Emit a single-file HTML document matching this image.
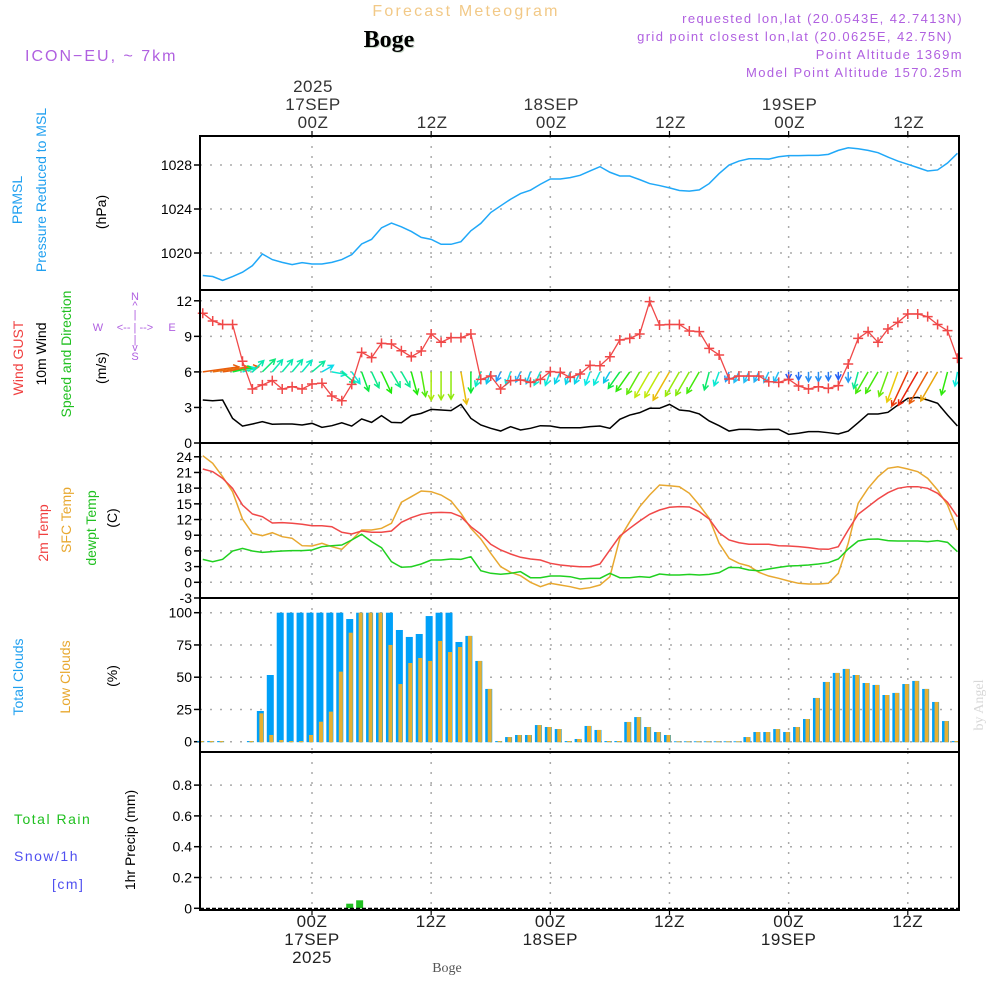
<!DOCTYPE html>
<html><head><meta charset="utf-8"><style>
html,body{margin:0;padding:0;background:#fff;}
svg{display:block;font-family:"Liberation Sans",sans-serif;}
</style></head><body>
<svg id="chart" width="1000" height="1000" viewBox="0 0 1000 1000" xmlns="http://www.w3.org/2000/svg">
<rect x="0" y="0" width="1000" height="1000" fill="#fff"/>
<text x="466" y="16" font-size="16" fill="#f2c987" text-anchor="middle" letter-spacing="2.2">Forecast Meteogram</text>
<text x="390" y="48" font-size="24" font-weight="bold" fill="#c9d9c9" text-anchor="middle" font-family="Liberation Serif,serif">Boge</text>
<text x="389" y="47" font-size="24" font-weight="bold" fill="#000" text-anchor="middle" font-family="Liberation Serif,serif">Boge</text>
<text x="25" y="61" font-size="16" fill="#b060e0" letter-spacing="2">ICON−EU, ~ 7km</text>
<g font-size="13" fill="#b060e0" text-anchor="end" letter-spacing="1.4">
<text x="963" y="23">requested lon,lat (20.0543E, 42.7413N)</text>
<text x="953" y="41">grid point closest lon,lat (20.0625E, 42.75N)</text>
<text x="963" y="59">Point Altitude 1369m</text>
<text x="963" y="77">Model Point Altitude 1570.25m</text>
</g>
<text transform="translate(983,705) rotate(-90)" font-size="14" fill="#d8d8d8" text-anchor="middle" font-family="Liberation Serif,serif">by Angel</text>
<text x="447" y="972" font-size="14" fill="#555" text-anchor="middle" font-family="Liberation Serif,serif">Boge</text>

<g font-size="14" text-anchor="middle">
<text transform="translate(22,200) rotate(-90)" fill="#20a0f0">PRMSL</text>
<text transform="translate(46,190) rotate(-90)" fill="#20a0f0">Pressure Reduced to MSL</text>
<text transform="translate(106,212) rotate(-90)" fill="#000">(hPa)</text>
<text transform="translate(23,358) rotate(-90)" fill="#f04040">Wind GUST</text>
<text transform="translate(46,354) rotate(-90)" fill="#000">10m Wind</text>
<text transform="translate(71,354) rotate(-90)" fill="#20c020">Speed and Direction</text>
<text transform="translate(106,368) rotate(-90)" fill="#000">(m/s)</text>
<text transform="translate(48,533) rotate(-90)" fill="#f04040">2m Temp</text>
<text transform="translate(71,520) rotate(-90)" fill="#e8a830">SFC Temp</text>
<text transform="translate(96,528) rotate(-90)" fill="#20c020">dewpt Temp</text>
<text transform="translate(117,518) rotate(-90)" fill="#000">(C)</text>
<text transform="translate(23,677) rotate(-90)" fill="#20a0f0">Total Clouds</text>
<text transform="translate(70,677) rotate(-90)" fill="#e8a830">Low Clouds</text>
<text transform="translate(117,676) rotate(-90)" fill="#000">(%)</text>
<text transform="translate(135,840) rotate(-90)" fill="#000">1hr Precip (mm)</text>
</g>
<g font-size="14" letter-spacing="1.5">
<text x="14" y="824" fill="#20c020">Total  Rain</text>
<text x="14" y="861" fill="#5050f0">Snow/1h</text>
<text x="52" y="889" fill="#5050f0">[cm]</text>
</g>
<g fill="#b060e0" font-size="11" text-anchor="middle">
<text x="135" y="300">N</text><text x="135" y="309">^</text><text x="135" y="318">|</text>
<text x="98" y="331">W</text><text x="135" y="331">&lt;-- | --&gt;</text><text x="172" y="331">E</text>
<text x="135" y="343">|</text><text x="135" y="351">v</text><text x="135" y="360">S</text>
</g>
<g id="plot"></g>
</svg>
<script>
const startHour = -11;
const pressure = [1017.95,1017.86,1017.5,1017.86,1018.25,1018.85,1019.91,1019.4,1019.15,1018.94,1019.12,1019.0,
1019.0,1019.15,1019.4,1019.85,1020.82,1021.24,1022.29,1022.72,1022.38,1021.96,1021.42,1021.24,
1020.79,1020.79,1021.03,1022.02,1022.69,1023.68,1024.29,1024.89,1025.4,1025.71,1026.25,1026.73,
1026.73,1026.85,1027.06,1027.46,1027.85,1027.34,1027.0,1027.0,1026.67,1026.31,1026.13,1025.92,
1025.68,1025.62,1025.74,1026.31,1027.22,1028.0,1028.36,1028.57,1028.57,1028.54,1028.75,1028.85,
1028.85,1028.88,1028.88,1028.97,1029.33,1029.57,1029.48,1029.33,1029.12,1028.72,1028.36,1028.06,
1027.76,1027.46,1027.55,1028.18,1029.06];
const gust = [10.95,10.3,10.0,10.0,6.9,4.56,4.9,5.26,4.56,4.75,4.56,4.98,
5.04,3.97,3.57,4.95,7.65,7.2,8.41,8.35,7.79,7.28,7.76,9.2,
8.5,8.89,8.89,9.2,5.37,5.65,4.56,5.26,5.32,5.12,5.37,6.02,
5.96,5.54,5.82,6.55,6.52,7.28,8.69,8.83,9.2,11.93,9.96,10.0,
10.0,9.45,9.4,7.99,7.43,5.4,5.65,5.65,5.65,5.17,5.12,5.37,
4.81,4.56,4.75,4.61,4.84,6.67,8.83,9.4,8.5,9.62,10.18,10.89,
10.89,10.66,10.0,9.48,7.15];
const windSpeed = [3.63,3.57,3.63,2.08,1.43,1.6,1.8,1.58,1.6,1.6,1.52,1.66,
1.32,1.46,1.71,1.43,2.03,1.74,2.31,1.74,1.71,2.31,2.5,2.84,
2.78,2.73,3.26,2.08,1.52,1.24,1.01,1.38,1.1,1.24,1.46,1.43,
1.29,1.29,1.29,1.38,1.43,1.24,2.0,2.36,2.56,2.93,2.93,3.26,
2.78,2.7,2.45,1.86,1.46,1.01,1.15,1.15,1.1,1.15,1.15,0.73,
0.82,0.96,0.96,0.87,0.76,1.01,1.71,2.45,2.45,2.59,3.2,3.77,
3.85,3.63,3.35,2.36,1.43];
const windToBearing = [82,82,82,78,75,45,45,40,40,40,40,50,
60,100,130,145,160,155,155,150,150,165,170,180,
180,180,170,180,200,200,205,200,205,200,205,200,
205,200,205,200,205,210,215,215,210,210,210,210,
210,210,210,195,200,200,205,205,205,205,205,180,
180,180,180,180,180,180,195,210,210,200,200,205,
210,210,210,195,190];
const temp2m = [21.66,21.15,19.88,17.97,14.78,13.06,12.55,11.34,11.4,11.28,11.09,10.82,
10.82,10.63,9.56,9.24,9.81,9.56,9.56,9.81,11.47,12.35,13.0,13.31,
13.38,13.31,12.55,10.63,9.18,7.27,6.18,5.41,4.78,4.46,4.26,3.63,
3.31,3.12,2.98,2.98,3.5,6.18,8.85,10.32,11.72,13.0,13.82,14.34,
14.46,14.4,13.5,12.1,9.48,8.09,7.57,7.27,7.27,7.27,7.0,6.94,
6.81,6.62,6.37,6.31,6.81,10.0,13.0,14.46,15.93,17.13,17.97,18.28,
18.28,17.97,17.02,15.3,12.55];
const tempSfc = [24.21,22.75,20.19,17.32,12.1,9.37,8.91,9.48,8.72,8.41,7.0,6.94,
7.46,6.81,6.31,8.09,10.0,10.0,10.32,11.28,15.3,16.37,17.46,17.32,
16.69,15.55,13.19,10.32,8.28,5.54,2.98,1.91,1.26,0.0,-0.84,-0.19,
-0.52,-0.84,-1.28,-1.03,-0.52,1.07,8.41,11.59,14.46,16.69,18.6,18.47,
18.28,17.02,14.78,12.24,7.46,4.59,3.63,3.12,1.91,1.2,0.76,0.25,
-0.19,-0.33,-0.33,-0.19,1.72,7.46,15.1,17.97,20.19,21.8,22.1,21.66,
21.15,19.88,17.65,14.78,10.0];
const dewpoint = [4.39,3.94,4.39,5.98,6.49,5.98,5.73,5.86,5.98,6.05,6.05,6.18,
6.81,7.0,7.13,8.09,9.18,7.77,6.62,3.94,2.87,2.98,3.5,4.26,
4.26,4.46,4.39,4.9,2.22,1.72,1.53,1.72,2.03,0.88,0.88,1.2,
1.2,1.07,0.63,0.76,0.76,1.72,0.88,0.88,1.08,0.95,1.59,1.4,
1.4,1.52,1.4,1.52,1.84,2.86,2.8,2.35,2.22,2.54,2.86,3.12,
3.18,3.31,3.5,3.75,4.46,6.37,7.9,8.22,8.28,7.96,7.9,7.9,
7.9,7.77,7.96,7.64,5.86];
const totalClouds = [0.5,0.5,0.5,0,0,0.5,23.8,51.7,100,100,100,100,
100,100,100,95.1,100,100,100,100,86.6,81.2,83.5,97.4,
100,100,77.3,82,62.6,40.9,0.5,3.6,5.2,5.2,12.9,11.4,
9.8,0.5,2.1,12.2,9.1,0.5,0.5,15.3,19.1,11.4,7.5,5.2,
0.3,0.3,0.3,0.3,0.3,0.3,0.3,3.6,7.5,7.5,9.8,7.5,
11.4,17.6,33.9,46.3,53.3,56.4,51.7,45.5,44,36.2,37.8,44.7,
47.1,40.9,30.8,16,0.5];
const lowClouds = [0.5,0.5,0.5,0,0,0.5,22,5.2,1.3,0.5,0.5,5.2,
15.5,23.3,54.3,84.5,100,100,100,75,44.7,61,64.9,62.6,
78.1,69.5,73.4,82,62.6,40.9,0.5,3.6,5.2,5.2,12.9,11.4,
9.8,0.5,2.1,12.2,9.1,0.5,0.5,15.3,19.1,11.4,7.5,5.2,
0.3,0.3,0.3,0.3,0.3,0.3,0.3,3.6,7.5,7.5,9.8,7.5,
11.4,17.6,33.9,46.3,53.3,56.4,51.7,45.5,44,36.2,37.8,44.7,
47.1,40.9,30.8,16,0.5];
const precipHours = [4,5];
const precipValues = [0.03,0.052];
const pressureTicks = [1020,1024,1028];
const windTicks = [0,3,6,9,12];
const tempTicks = [-3,0,3,6,9,12,15,18,21,24];
const cloudTicks = [0,25,50,75,100];
const precipTicks = [0,0.2,0.4,0.6,0.8];
const gridHours = [0,12,24,36,48,60];
const topTimeLabels = [["2025","17SEP","00Z"],["","","12Z"],["","18SEP","00Z"],["","","12Z"],["","19SEP","00Z"],["","","12Z"]];
const bottomTimeLabels = [["00Z","17SEP","2025"],["12Z","",""],["00Z","18SEP",""],["12Z","",""],["00Z","19SEP",""],["12Z","",""]];

const L = 200, R = 959;
const X = t => 312 + 9.93 * t;
const yP = p => 165 + (1028 - p) * 11;
const yW = w => 443 - w * 11.85;
const yT = v => 582.3 - v * 5.23;
const yC = c => 741.7 - c * 1.29;
const yR = r => 908.3 - r * 154;
const panels = [[136,290,pressureTicks,yP,'pressure'],[290,443,windTicks,yW,'wind'],[443,598,tempTicks,yT,'temp'],[598,752,cloudTicks,yC,'cloud'],[752,910,precipTicks,yR,'precip']];

const NS = 'http://www.w3.org/2000/svg';
const plot = document.getElementById('plot');
function mk(tag, attrs, parent) {
  const e = document.createElementNS(NS, tag);
  for (const k in attrs) e.setAttribute(k, attrs[k]);
  (parent || plot).appendChild(e);
  return e;
}
const hoursOf = i => startHour + i;

panels.forEach(([top, bot, ticks, ys, nm]) => {
  const g = mk('g', {});
  
  
  ticks.forEach(v => {
    const y = ys(v);
    if (y > top + 2 && y < bot - 2) mk('line', {x1:L, x2:R, y1:y, y2:y, stroke:'#aaa', 'stroke-width':1.5, 'stroke-dasharray':'2 8'}, g);
    mk('line', {x1:L-6, x2:L, y1:y, y2:y, stroke:'#000', 'stroke-width':1.5}, g);
    const tx = mk('text', {x:L-8, y:y+5, 'font-size':14, 'text-anchor':'end', fill:'#000'}, g);
    tx.textContent = String(v);
    
    
  });
  gridHours.forEach(h => {
    mk('line', {x1:X(h), x2:X(h), y1:top, y2:bot, stroke:'#aaa', 'stroke-width':1.5, 'stroke-dasharray':'2 8'}, g);
  });
});

const pLine = mk('polyline', {points:pressure.map((p, i) => X(hoursOf(i)) + ',' + yP(p)).join(' '), fill:'none', stroke:'#20a8f8', 'stroke-width':1.5});



const wsLine = mk('polyline', {points:windSpeed.map((w, i) => X(hoursOf(i)) + ',' + yW(w)).join(' '), fill:'none', stroke:'#000', 'stroke-width':1.5});



function speedColor(s) {
  let h = 220 - (s - 0.8) * 70;
  h = Math.max(0, Math.min(225, h));
  return 'hsl(' + h + ',90%,' + (h > 190 ? 55 : 48) + '%)';
}
const arrowG = mk('g', {});


windSpeed.forEach((s, i) => {
  const x0 = X(hoursOf(i)), y0 = yW(6);
  const a = windToBearing[i] * Math.PI / 180;
  const len = s * 10;
  const dx = Math.sin(a), dy = -Math.cos(a);
  const x1 = x0 + dx * len, y1 = y0 + dy * len;
  const c = speedColor(s);
  const hl = 6, ang = 0.5;
  const ba = Math.atan2(-dy, -dx);
  const d = 'M' + x0 + ' ' + y0 + 'L' + x1 + ' ' + y1 +
    'M' + (x1 + hl * Math.cos(ba + ang)) + ' ' + (y1 + hl * Math.sin(ba + ang)) + 'L' + x1 + ' ' + y1 +
    'L' + (x1 + hl * Math.cos(ba - ang)) + ' ' + (y1 + hl * Math.sin(ba - ang));
  const p = mk('path', {d:d, fill:'none', stroke:c, 'stroke-width':1.5}, arrowG);
  
  
});

const gLine = mk('polyline', {points:gust.map((w, i) => X(hoursOf(i)) + ',' + yW(w)).join(' '), fill:'none', stroke:'#f04848', 'stroke-width':1.3});


gust.forEach((w, i) => {
  const x = X(hoursOf(i)), y = yW(w);
  const m = mk('path', {d:'M' + (x-5) + ' ' + y + 'H' + (x+5) + 'M' + x + ' ' + (y-5) + 'V' + (y+5), stroke:'#f04848', 'stroke-width':1.5});
  
  
});

[[tempSfc,'#e8a830','sfc-temp-line'],[temp2m,'#f04848','t2m-line'],[dewpoint,'#20d020','dewpoint-line']].forEach(([arr, col, nm]) => {
  const l = mk('polyline', {points:arr.map((v, i) => X(hoursOf(i)) + ',' + yT(v)).join(' '), fill:'none', stroke:col, 'stroke-width':1.5});
  
  
});

totalClouds.forEach((c, i) => {
  const xc = X(hoursOf(i)) - 2;
  if (c > 0) {
    const b = mk('rect', {x:xc-3.5, y:yC(c), width:7, height:yC(0)-yC(c)+0.5, fill:'#00a0f8'});
    
    
  }
  const lc = lowClouds[i];
  if (lc > 0) {
    const o = mk('rect', {x:xc-1, y:yC(lc), width:4, height:yC(0)-yC(lc)+0.5, fill:'#e8b030'});
    
    
  }
});

precipHours.forEach((h, i) => {
  const xc = X(h) - 2;
  const r = mk('rect', {x:xc-3.5, y:yR(precipValues[i]), width:7, height:yR(0)-yR(precipValues[i]), fill:'#20c020'});
  
  
});
mk('line', {x1:L, x2:R, y1:908.5, y2:908.5, stroke:'#000', 'stroke-width':1.5, 'stroke-dasharray':'4 2'});

const frame = mk('g', {});


mk('rect', {x:L, y:136, width:R-L, height:910-136, fill:'none', stroke:'#000', 'stroke-width':2}, frame);
[290,443,598,752].forEach(y => mk('line', {x1:L, x2:R, y1:y, y2:y, stroke:'#000', 'stroke-width':2}, frame));

gridHours.forEach((h, k) => {
  const x = X(h);
  mk('line', {x1:x, x2:x, y1:131, y2:136, stroke:'#000', 'stroke-width':1.2});
  mk('line', {x1:x, x2:x, y1:910, y2:915, stroke:'#000', 'stroke-width':1.2});
  topTimeLabels[k].forEach((s, j) => {
    if (!s) return;
    const t = mk('text', {x:x+1, y:92 + j*18, 'font-size':17, 'text-anchor':'middle', fill:'#333', 'letter-spacing':'0.5'});
    t.textContent = s;
    
    
  });
  bottomTimeLabels[k].forEach((s, j) => {
    if (!s) return;
    const t = mk('text', {x:x, y:927 + j*18, 'font-size':17, 'text-anchor':'middle', fill:'#222', 'letter-spacing':'0.5'});
    t.textContent = s;
    
    
  });
});
</script>
</body></html>
